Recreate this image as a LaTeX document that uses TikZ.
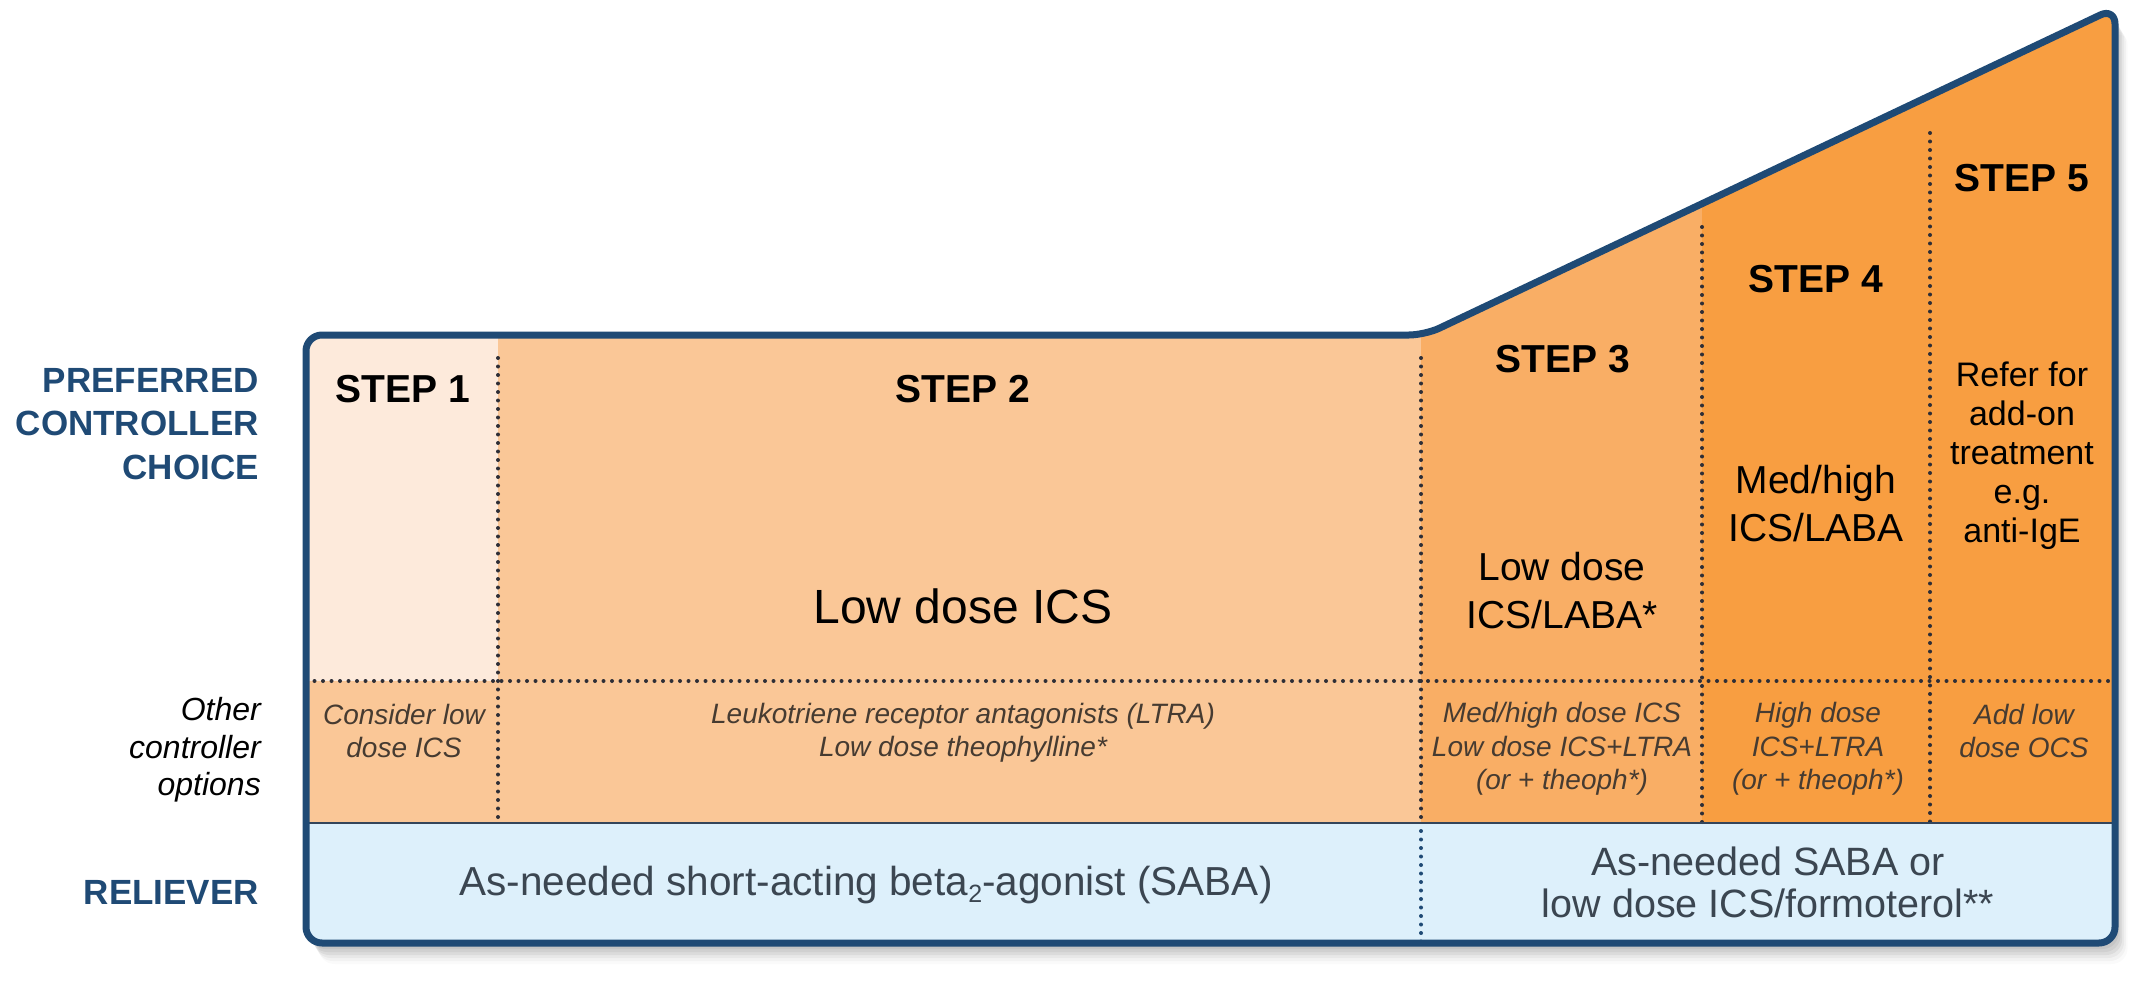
\documentclass[tikz,border=0pt]{standalone}
\usepackage{fontspec}
\setmainfont{Liberation Sans}
\definecolor{navy}{HTML}{1F4A75}
\definecolor{peachA}{HTML}{FDEADB}
\definecolor{peachB}{HTML}{FAC797}
\definecolor{orangeC}{HTML}{F9AE65}
\definecolor{orangeD}{HTML}{F89E41}
\definecolor{relblue}{HTML}{DDF0FB}
\definecolor{opttext}{HTML}{463B31}
\definecolor{reltext}{HTML}{3B4651}
\definecolor{dotgray}{HTML}{2E2E36}
\definecolor{sepline}{HTML}{34455A}
\newcommand{\lowtwo}{\raisebox{-0.18em}{\fontsize{25}{25}\selectfont 2}}
\tikzset{
  stepbox/.style={font=\bfseries\fontsize{39}{47}\selectfont, text=black, inner sep=0pt},
  maintext/.style={font=\fontsize{39}{48}\selectfont, text=black, align=center, inner sep=0pt},
  opttxt/.style={font=\itshape\fontsize{28}{33.5}\selectfont, text=opttext, align=center, inner sep=0pt},
  reltxt/.style={font=\fontsize{39.5}{42}\selectfont, text=reltext, align=center, inner sep=0pt},
  sidehead/.style={font=\bfseries\fontsize{35}{43.5}\selectfont, text=navy, align=right, anchor=east, inner sep=0pt},
  sidesub/.style={font=\itshape\fontsize{32}{37.5}\selectfont, text=black, align=right, anchor=east, inner sep=0pt},
  dotline/.style={dotgray, line width=4pt, line cap=round, dash pattern=on 0pt off 8.5pt},
  navydot/.style={navy, line width=4pt, line cap=round, dash pattern=on 0pt off 8.5pt},
}
\begin{document}
\begin{tikzpicture}[x=1pt,y=-1pt]
\path[use as bounding box, fill=white] (0,0) rectangle (2135,984);

% shadow
\foreach \d/\o in {3/0.05,6/0.05,9/0.05,12/0.05,15/0.04,18/0.03,21/0.02}{
  \fill[black, opacity=\o, rounded corners=16pt]
    (306+0.6*\d,335+\d) -- (1425+0.6*\d,335+\d) -- (2115+0.6*\d,8+\d) -- (2115+0.6*\d,943+\d) -- (306+0.6*\d,943+\d) -- cycle;
}

\begin{scope}
  \clip[rounded corners=16pt] (306,335) -- (1425,335) -- (2115,8) -- (2115,943) -- (306,943) -- cycle;
  % top row
  \fill[peachA] (300,0) rectangle (498,681);
  \fill[peachB] (498,0) rectangle (1421,681);
  \fill[orangeC] (1421,0) rectangle (1702,823);
  \fill[orangeD] (1702,0) rectangle (2120,823);
  % other row steps 1-2
  \fill[peachB] (300,681) rectangle (1421,823);
  % reliever
  \fill[relblue] (300,823) rectangle (2120,950);
  % separators
  \draw[dotline] (306,681) -- (2115,681);
  \draw[dotline] (498,358) -- (498,823);
  \draw[dotline] (1421,358) -- (1421,823);
  \draw[navydot] (1421,831) -- (1421,943);
  \draw[dotline] (1702,227) -- (1702,823);
  \draw[dotline] (1930,133) -- (1930,823);
  \draw[sepline, line width=2.5pt] (306,823) -- (2115,823);
\end{scope}

% border
\draw[navy, line width=7pt, rounded corners=16pt, line join=round]
  (306,335) -- (1425,335) -- (2115,8) -- (2115,943) -- (306,943) -- cycle;

% side labels
\node[sidehead] (lpref) at (259,424) {PREFERRED\\CONTROLLER\\CHOICE};
\node[sidesub] (lother) at (261,750) {Other\\controller\\options};
\node[sidehead] (lrel) at (259,892) {RELIEVER};

% step headers
\node[stepbox] (st1) at (403,389) {STEP 1};
\node[stepbox] (st2) at (963,389) {STEP 2};
\node[stepbox] (st3) at (1563,359) {STEP 3};
\node[stepbox] (st4) at (1816,279) {STEP 4};
\node[stepbox] (st5) at (2022,178) {STEP 5};

% preferred controller
\node[maintext, font=\fontsize{48}{56}\selectfont] (m2) at (963,606) {Low dose ICS};
\node[maintext] (m3) at (1562,591) {Low dose\\ICS/LABA*};
\node[maintext] (m4) at (1816,504) {Med/high\\ICS/LABA};
\node[maintext, font=\fontsize{34}{39}\selectfont] (m5) at (2022,456) {Refer for\\add-on\\treatment\\e.g.\\anti-IgE};

% other controller options
\node[opttxt] (o1) at (404,731) {Consider low\\dose ICS};
\node[opttxt] (o2) at (963,733) {Leukotriene receptor antagonists (LTRA)\\Low dose theophylline*};
\node[opttxt] (o3) at (1562,749) {Med/high dose ICS\\Low dose ICS+LTRA\\(or + theoph*)};
\node[opttxt] (o4) at (1818,749) {High dose\\ICS+LTRA\\(or + theoph*)};
\node[opttxt] (o5) at (2024,731) {Add low\\dose OCS};

% reliever
\node[reltxt, font=\fontsize{40.5}{42}\selectfont] (r1) at (866,885) {As-needed short-acting beta\lowtwo-agonist (SABA)};
\node[reltxt] (r2) at (1768,882) {As-needed SABA or\\low dose ICS/formoterol**};
\end{tikzpicture}
\end{document}
